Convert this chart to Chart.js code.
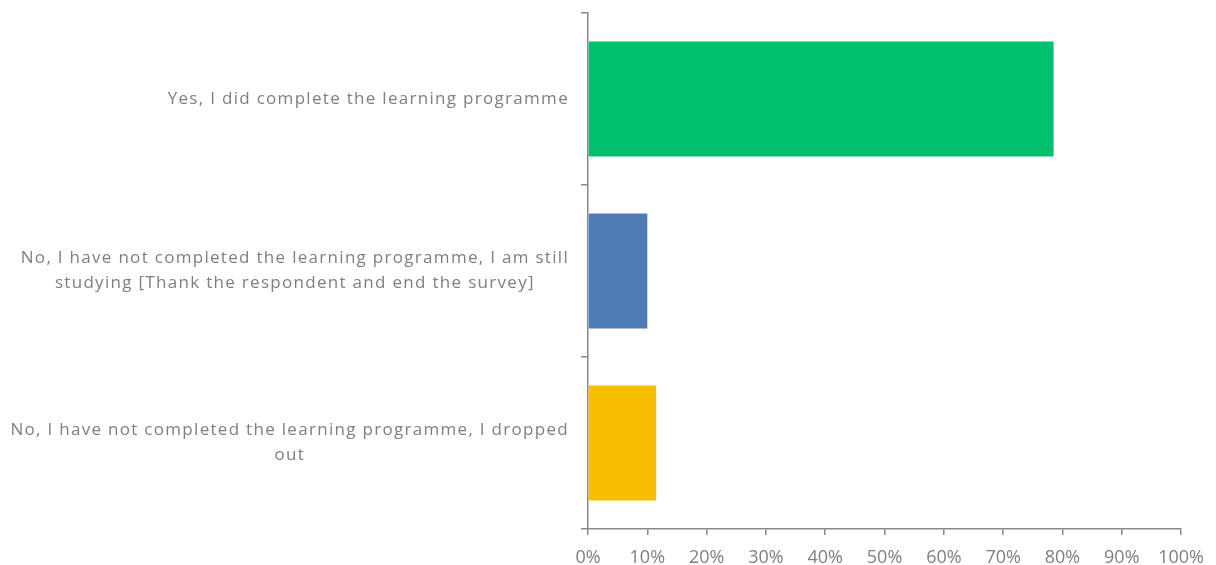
<!DOCTYPE html>
<html>
<head>
<meta charset="utf-8">
<title>Learning programme completion</title>
<script src="https://cdn.jsdelivr.net/npm/chart.js@4/dist/chart.umd.min.js"></script>
<style>
    html, body { margin: 0; padding: 0; background: #ffffff; }
    #wrap { width: 1216px; height: 565px; }
</style>
</head>
<body>
<div id="wrap"><canvas id="barChart" width="1216" height="565"></canvas></div>
<script>
// Answer categories (each entry is a list of lines)
const answers = [
    ['Yes, I did complete the learning programme'],
    ['No, I have not completed the learning programme, I am still', 'studying [Thank the respondent and end the survey]'],
    ['No, I have not completed the learning programme, I dropped', 'out']
];

// Share of respondents (%)
const shares = [78.5, 10.0, 11.5];

// Bar colours, one per answer
const barColors = ['#00BF6F', '#507CB6', '#F9BE00'];

const axisColor = '#888888';
const textColor = '#7f7f7f';
const fontFamily = '"Open Sans", Lato, sans-serif';

// Draws the category labels: each block is right aligned next to the axis,
// and the lines inside a block are centred on each other
const categoryLabels = {
    id: 'categoryLabels',
    afterDraw(chart) {
        const ctx = chart.ctx;
        const yScale = chart.scales.y;
        const rightEdge = yScale.right - 19;
        const lineHeight = 25;
        ctx.save();
        ctx.font = '17px ' + fontFamily;
        ctx.letterSpacing = '1.3px';
        ctx.fillStyle = textColor;
        ctx.textAlign = 'center';
        ctx.textBaseline = 'middle';
        answers.forEach((lines, i) => {
            const widest = Math.max(...lines.map(l => ctx.measureText(l).width));
            const cx = rightEdge - widest / 2;
            const cy = yScale.getPixelForValue(i);
            const startY = cy - (lines.length - 1) * lineHeight / 2;
            lines.forEach((line, j) => {
                ctx.fillText(line, cx, startY + j * lineHeight);
            });
        });
        ctx.restore();
    }
};

const ctx = document.getElementById('barChart').getContext('2d');
new Chart(ctx, {
    type: 'bar',
    data: {
        labels: answers.map(a => a.join(' ')),
        datasets: [{
            data: shares,
            backgroundColor: barColors,
            borderWidth: 0,
            barPercentage: 0.67,
            categoryPercentage: 1.0
        }]
    },
    options: {
        indexAxis: 'y',
        responsive: false,
        animation: false,
        layout: {
            padding: { top: 13, right: 34, left: 0, bottom: 0 }
        },
        plugins: {
            legend: { display: false },
            tooltip: { enabled: false }
        },
        scales: {
            x: {
                min: 0,
                max: 100,
                ticks: {
                    stepSize: 10,
                    padding: 12,
                    color: textColor,
                    font: { family: fontFamily, size: 18 },
                    maxRotation: 0,
                    callback: value => value + '%'
                },
                grid: {
                    drawOnChartArea: false,
                    drawTicks: true,
                    tickLength: 6,
                    lineWidth: 1.5,
                    color: axisColor
                },
                border: { color: axisColor, width: 1.5 },
                afterFit: scale => { scale.height = 36; }
            },
            y: {
                ticks: { display: false },
                grid: {
                    offset: true,
                    drawOnChartArea: false,
                    drawTicks: true,
                    tickLength: 7,
                    lineWidth: 1.5,
                    color: axisColor
                },
                border: { color: axisColor, width: 1.5 },
                afterFit: scale => { scale.width = 588; }
            }
        }
    },
    plugins: [categoryLabels]
});
</script>
</body>
</html>
